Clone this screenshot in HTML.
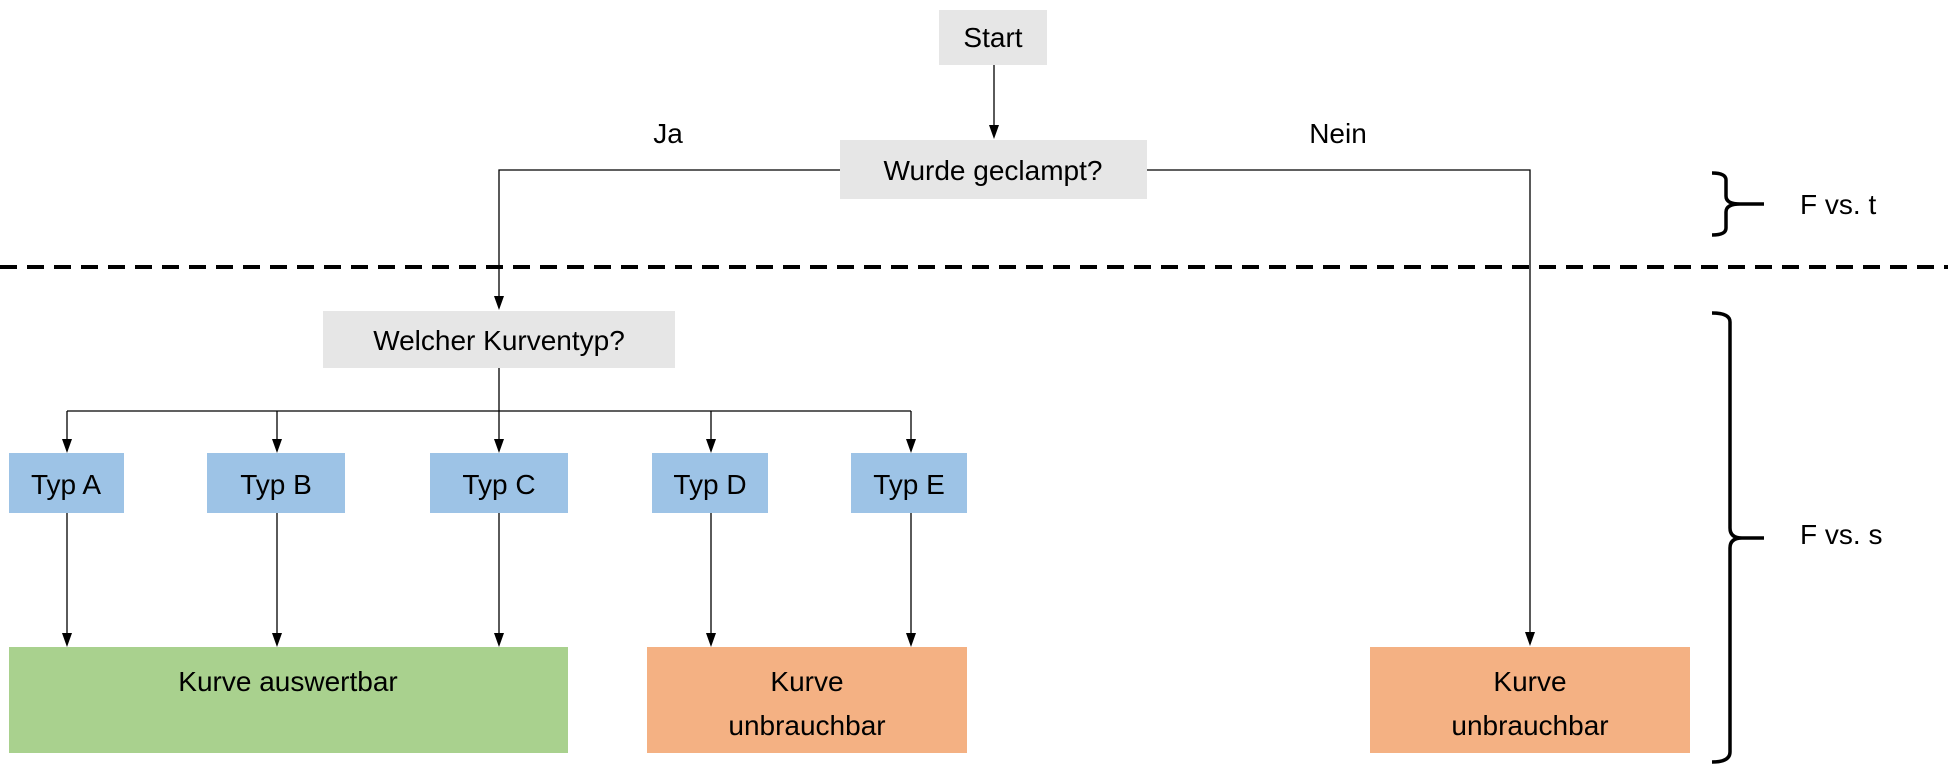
<!DOCTYPE html>
<html><head><meta charset="utf-8"><style>
html,body{margin:0;padding:0;background:#fff;}
svg{display:block;}
text{font-family:"Liberation Sans",sans-serif;font-size:28px;fill:#000;}
</style></head><body>
<svg width="1948" height="769" viewBox="0 0 1948 769" xmlns="http://www.w3.org/2000/svg">
<style>.l{stroke:#000;stroke-width:1.3;fill:none}</style>
<!-- boxes -->
<rect x="939" y="10" width="108" height="55" fill="#e6e6e6"/>
<rect x="840" y="140" width="307" height="59" fill="#e6e6e6"/>
<rect x="323" y="311" width="352" height="57" fill="#e6e6e6"/>
<rect x="9" y="453" width="115" height="60" fill="#9dc3e6"/>
<rect x="207" y="453" width="138" height="60" fill="#9dc3e6"/>
<rect x="430" y="453" width="138" height="60" fill="#9dc3e6"/>
<rect x="652" y="453" width="116" height="60" fill="#9dc3e6"/>
<rect x="851" y="453" width="116" height="60" fill="#9dc3e6"/>
<rect x="9" y="647" width="559" height="106" fill="#a9d18e"/>
<rect x="647" y="647" width="320" height="106" fill="#f4b183"/>
<rect x="1370" y="647" width="320" height="106" fill="#f4b183"/>
<!-- lines -->
<line x1="994" y1="65" x2="994" y2="125" class="l"/>
<path d="M989,125 L999,125 L994,139 Z"/>
<polyline points="840,170 499,170 499,296" class="l"/>
<path d="M494,296 L504,296 L499,310 Z"/>
<polyline points="1147,170 1530,170 1530,632" class="l"/>
<path d="M1525,632 L1535,632 L1530,646 Z"/>
<line x1="0" y1="267" x2="1948" y2="267" stroke="#000" stroke-width="4" stroke-dasharray="17,10"/>
<line x1="499" y1="368" x2="499" y2="411" class="l"/>
<line x1="67" y1="411" x2="911" y2="411" class="l"/>
<g class="l">
<line x1="67" y1="411" x2="67" y2="440"/><line x1="277" y1="411" x2="277" y2="440"/><line x1="499" y1="411" x2="499" y2="440"/><line x1="711" y1="411" x2="711" y2="440"/><line x1="911" y1="411" x2="911" y2="440"/>
<line x1="67" y1="513" x2="67" y2="634"/><line x1="277" y1="513" x2="277" y2="634"/><line x1="499" y1="513" x2="499" y2="634"/><line x1="711" y1="513" x2="711" y2="634"/><line x1="911" y1="513" x2="911" y2="634"/>
</g>
<g>
<path d="M62,439 L72,439 L67,453 Z"/><path d="M272,439 L282,439 L277,453 Z"/><path d="M494,439 L504,439 L499,453 Z"/><path d="M706,439 L716,439 L711,453 Z"/><path d="M906,439 L916,439 L911,453 Z"/>
<path d="M62,633 L72,633 L67,647 Z"/><path d="M272,633 L282,633 L277,647 Z"/><path d="M494,633 L504,633 L499,647 Z"/><path d="M706,633 L716,633 L711,647 Z"/><path d="M906,633 L916,633 L911,647 Z"/>
</g>
<!-- braces -->
<path d="M1712,173 Q1726,173 1726,180 L1726,196 Q1726,204 1740,204 L1764,204 M1740,204 Q1726,204 1726,212 L1726,228 Q1726,235 1712,235" style="stroke:#000;stroke-width:3.5;fill:none"/>
<path d="M1712,313 Q1730,313 1730,322 L1730,528 Q1730,538 1742,538 L1764,538 M1742,538 Q1730,538 1730,548 L1730,752 Q1730,762 1712,762" style="stroke:#000;stroke-width:3.5;fill:none"/>
<!-- text -->
<g text-anchor="middle">
<text x="993" y="47">Start</text>
<text x="993" y="180">Wurde geclampt?</text>
<text x="668" y="143">Ja</text>
<text x="1338" y="143">Nein</text>
<text x="499" y="350">Welcher Kurventyp?</text>
<text x="66" y="494">Typ A</text>
<text x="276" y="494">Typ B</text>
<text x="499" y="494">Typ C</text>
<text x="710" y="494">Typ D</text>
<text x="909" y="494">Typ E</text>
<text x="288" y="691">Kurve auswertbar</text>
<text x="807" y="691">Kurve</text>
<text x="807" y="735">unbrauchbar</text>
<text x="1530" y="691">Kurve</text>
<text x="1530" y="735">unbrauchbar</text>
</g>
<text x="1800" y="214">F vs. t</text>
<text x="1800" y="544">F vs. s</text>
</svg>
</body></html>
